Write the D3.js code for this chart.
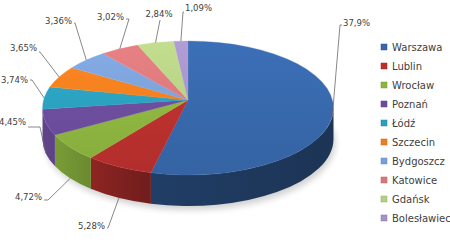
<!DOCTYPE html>
<html>
<head>
<meta charset="utf-8">
<title>Udział miast</title>
<script src="https://d3js.org/d3.v7.min.js"></script>
<style>
  body { margin: 0; background: #fff; }
  text { font-family: "DejaVu Sans", Verdana, sans-serif; }
</style>
</head>
<body>
<script>
var cities = ["Warszawa", "Lublin", "Wrocław", "Poznań", "Łódź", "Szczecin", "Bydgoszcz", "Katowice", "Gdańsk", "Bolesławiec"];
var shares = [37.9, 5.28, 4.72, 4.45, 3.74, 3.65, 3.36, 3.02, 2.84, 1.09];
var shareLabels = ["37,9%", "5,28%", "4,72%", "4,45%", "3,74%", "3,65%", "3,36%", "3,02%", "2,84%", "1,09%"];
var colors = ["#3767aa", "#b9302e", "#8cb43f", "#6b4c9b", "#2b9fbd", "#ef7e1f", "#7ba0d6", "#d8787b", "#b5cf84", "#a592c6"];

// label layout (where Excel put the callouts)
var elbows = [[340, 25], [108, 228], [48, 200], [40, 127], [32, 80], [40, 52], [75, 23], [129, 19], [160, 20], [183, 12]];
var textAt = [[343, 26], [105, 229], [42, 200], [26, 125], [28, 83], [37, 51], [72, 24], [124, 20], [159, 17], [185, 11]];
var anchors = ["start", "end", "end", "end", "end", "end", "end", "end", "middle", "start"];

var width = 450, height = 243;
var cx = 188, cy = 108, rx = 145.5, ry = 67, depth = 31, apexLift = 8;

var svg = d3.select("body").append("svg")
    .attr("width", width)
    .attr("height", height);

var defs = svg.append("defs");

defs.append("filter").attr("id", "blur")
    .attr("x", "-20%").attr("y", "-20%").attr("width", "140%").attr("height", "140%")
  .append("feGaussianBlur").attr("stdDeviation", 3);

var pie = d3.pie().sort(null).value(function(d) { return d; });
var slices = pie(shares);

function pt(a, dy) {
    return [cx + rx * Math.sin(a), cy - ry * Math.cos(a) + (dy || 0)];
}

// light on the outer wall depending on where it faces
function light(a) {
    return 0.5 + 0.4 * Math.max(0, -Math.sin(a));
}

function shade(c, k) {
    var r = d3.rgb(c);
    return d3.rgb(r.r * k, r.g * k, r.b * k).formatHex();
}

// shadow under the pie
svg.append("ellipse")
    .attr("cx", cx + 2)
    .attr("cy", cy + depth + 4)
    .attr("rx", rx)
    .attr("ry", ry)
    .attr("fill", "#000")
    .attr("opacity", 0.18)
    .attr("filter", "url(#blur)");

// outer walls (front half only)
var walls = svg.append("g");
slices.forEach(function(s, i) {
    var a0 = Math.max(s.startAngle, Math.PI / 2);
    var a1 = Math.min(s.endAngle, 3 * Math.PI / 2);
    if (a1 <= a0) return;

    var g = defs.append("linearGradient")
        .attr("id", "wall" + i)
        .attr("x1", 0).attr("x2", 1).attr("y1", 0).attr("y2", 0);
    g.append("stop").attr("offset", 0).attr("stop-color", shade(colors[i], light(a1)));
    g.append("stop").attr("offset", 1).attr("stop-color", shade(colors[i], light(a0)));

    var p0 = pt(a0), p1 = pt(a1), q1 = pt(a1, depth), q0 = pt(a0, depth);
    var d = "M" + p0 + "A" + rx + "," + ry + " 0 0 1 " + p1 +
            "L" + q1 + "A" + rx + "," + ry + " 0 0 0 " + q0 + "Z";
    walls.append("path")
        .attr("d", d)
        .attr("fill", "url(#wall" + i + ")");
});

// top faces
var tops = svg.append("g");
slices.forEach(function(s, i) {
    var g = defs.append("linearGradient")
        .attr("id", "top" + i)
        .attr("gradientUnits", "userSpaceOnUse")
        .attr("x1", 0).attr("x2", 0)
        .attr("y1", cy - ry).attr("y2", cy + ry);
    g.append("stop").attr("offset", 0).attr("stop-color", d3.rgb(colors[i]).brighter(0.2));
    g.append("stop").attr("offset", 1).attr("stop-color", d3.rgb(colors[i]).darker(0.12));

    var apex = [cx, cy - apexLift];
    var large = (s.endAngle - s.startAngle) > Math.PI ? 1 : 0;
    var d = "M" + apex + "L" + pt(s.startAngle) +
            "A" + rx + "," + ry + " 0 " + large + " 1 " + pt(s.endAngle) + "Z";
    tops.append("path")
        .attr("d", d)
        .attr("fill", "url(#top" + i + ")")
        .attr("stroke", d3.rgb(colors[i]).brighter(0.3))
        .attr("stroke-width", 0.3);
});

// leader lines and percentage labels
var callouts = svg.append("g");
slices.forEach(function(s, i) {
    var mid = (s.startAngle + s.endAngle) / 2;
    var start = Math.cos(mid) < -0.15 ? pt(mid, depth) : pt(mid);
    var e = elbows[i], t = textAt[i];
    var pts = [start, e];
    if (anchors[i] === "end") pts.push([t[0] + 2, e[1]]);
    if (anchors[i] === "start") pts.push([t[0] - 1, e[1]]);

    callouts.append("path")
        .attr("d", d3.line()(pts))
        .attr("fill", "none")
        .attr("stroke", "#6a6a6a")
        .attr("stroke-width", 0.8);

    callouts.append("text")
        .attr("x", t[0])
        .attr("y", t[1])
        .attr("text-anchor", anchors[i])
        .attr("font-size", "8.5px")
        .attr("fill", "#404040")
        .text(shareLabels[i]);
});

// legend
var legendY = d3.scalePoint()
    .domain(cities)
    .range([47, 218]);

var legend = svg.append("g").selectAll("g")
    .data(cities)
    .enter()
    .append("g")
    .attr("transform", function(d) { return "translate(381," + legendY(d) + ")"; });

legend.append("rect")
    .attr("x", 0)
    .attr("y", -3)
    .attr("width", 6)
    .attr("height", 6)
    .attr("fill", function(d, i) { return colors[i]; })
    .attr("stroke", function(d, i) { return d3.rgb(colors[i]).darker(0.5); })
    .attr("stroke-width", 0.5);

legend.append("text")
    .attr("x", 11)
    .attr("y", 3.5)
    .attr("font-size", "10px")
    .attr("fill", "#404040")
    .text(function(d) { return d; });
</script>
</body>
</html>
